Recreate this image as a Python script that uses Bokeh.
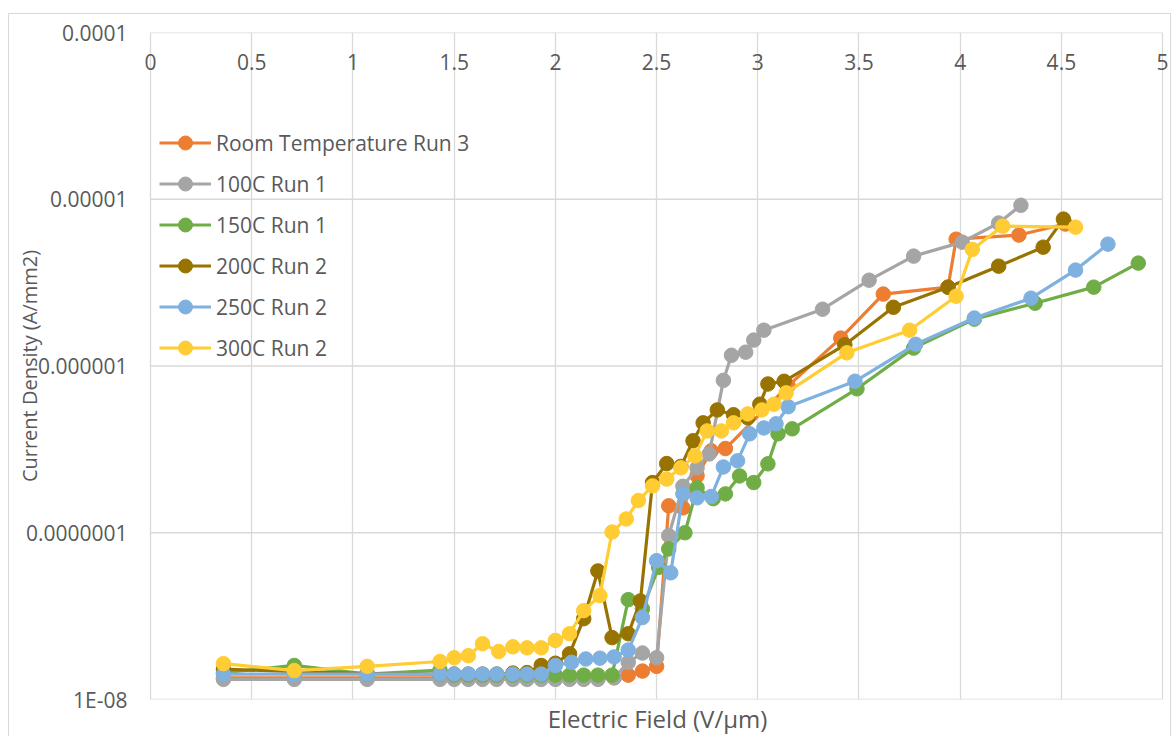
from bokeh.plotting import figure
from bokeh.models import (FixedTicker, ColumnDataSource, Label, Legend, LegendItem,
                          LinearAxis, Grid)
from bokeh.embed import file_html
from bokeh.resources import INLINE

# ---------------- data ----------------
series_names = ["Room Temperature Run 3", "100C Run 1", "150C Run 1",
                "200C Run 2", "250C Run 2", "300C Run 2"]
series_colors = ["#ED7D31", "#A5A5A5", "#70AD47", "#997300", "#7FB1E0", "#FFCC33"]

rt_x = [0.36, 0.71, 1.07, 1.43, 1.50, 1.57, 1.64, 1.71, 1.79, 1.86, 1.93, 2.00, 2.07, 2.14,
        2.21, 2.29, 2.36, 2.43, 2.50, 2.56, 2.63, 2.70, 2.77, 2.84, 3.15, 3.41, 3.62, 3.94,
        3.98, 4.29, 4.52]
rt_y = [1.35e-8, 1.35e-8, 1.35e-8, 1.35e-8, 1.35e-8, 1.35e-8, 1.35e-8, 1.35e-8, 1.35e-8,
        1.35e-8, 1.35e-8, 1.35e-8, 1.35e-8, 1.35e-8, 1.35e-8, 1.35e-8, 1.40e-8, 1.48e-8,
        1.58e-8, 1.45e-7, 1.41e-7, 2.2e-7, 3.1e-7, 3.2e-7, 7.6e-7, 1.47e-6, 2.7e-6, 2.97e-6,
        5.76e-6, 6.1e-6, 7.1e-6]

c100_x = [0.36, 0.71, 1.07, 1.43, 1.50, 1.57, 1.64, 1.71, 1.79, 1.86, 1.93, 2.00, 2.07, 2.14,
          2.21, 2.29, 2.36, 2.43, 2.50, 2.56, 2.63, 2.70, 2.76, 2.83, 2.87, 2.94, 2.98, 3.03,
          3.32, 3.55, 3.77, 4.01, 4.19, 4.30]
c100_y = [1.32e-8, 1.32e-8, 1.32e-8, 1.32e-8, 1.32e-8, 1.32e-8, 1.32e-8, 1.32e-8, 1.32e-8,
          1.32e-8, 1.32e-8, 1.32e-8, 1.32e-8, 1.32e-8, 1.32e-8, 1.35e-8, 1.67e-8, 1.9e-8,
          1.78e-8, 9.6e-8, 1.9e-7, 2.45e-7, 2.97e-7, 8.2e-7, 1.16e-6, 1.21e-6, 1.43e-6,
          1.64e-6, 2.19e-6, 3.27e-6, 4.56e-6, 5.53e-6, 7.2e-6, 9.2e-6]

c150_x = [0.36, 0.71, 1.07, 1.43, 1.50, 1.57, 1.64, 1.71, 1.79, 1.86, 1.93, 2.00, 2.07, 2.14,
          2.21, 2.28, 2.36, 2.43, 2.51, 2.56, 2.64, 2.70, 2.78, 2.84, 2.91, 2.98, 3.05, 3.10,
          3.17, 3.49, 3.77, 4.07, 4.37, 4.66, 4.88]
c150_y = [1.45e-8, 1.6e-8, 1.42e-8, 1.5e-8, 1.4e-8, 1.4e-8, 1.4e-8, 1.4e-8, 1.4e-8, 1.4e-8,
          1.4e-8, 1.4e-8, 1.4e-8, 1.4e-8, 1.4e-8, 1.4e-8, 3.97e-8, 3.5e-8, 6.2e-8, 8.0e-8,
          1.0e-7, 1.86e-7, 1.6e-7, 1.71e-7, 2.19e-7, 2.0e-7, 2.59e-7, 3.92e-7, 4.2e-7, 7.3e-7,
          1.28e-6, 1.91e-6, 2.38e-6, 2.97e-6, 4.14e-6]

c200_x = [0.36, 0.71, 1.07, 1.43, 1.50, 1.57, 1.64, 1.71, 1.79, 1.86, 1.93, 2.00, 2.07, 2.14,
          2.21, 2.28, 2.36, 2.42, 2.48, 2.55, 2.62, 2.68, 2.73, 2.80, 2.88, 2.95, 3.01, 3.05,
          3.13, 3.43, 3.67, 3.94, 4.19, 4.41, 4.51]
c200_y = [1.52e-8, 1.47e-8, 1.43e-8, 1.42e-8, 1.42e-8, 1.42e-8, 1.42e-8, 1.42e-8, 1.44e-8,
          1.45e-8, 1.6e-8, 1.65e-8, 1.88e-8, 3.05e-8, 5.9e-8, 2.35e-8, 2.48e-8, 3.9e-8, 2.0e-7,
          2.6e-7, 2.5e-7, 3.56e-7, 4.56e-7, 5.45e-7, 5.1e-7, 4.9e-7, 5.9e-7, 7.8e-7, 8.1e-7,
          1.34e-6, 2.25e-6, 2.97e-6, 3.97e-6, 5.16e-6, 7.6e-6]

c250_x = [0.36, 0.71, 1.07, 1.43, 1.50, 1.57, 1.64, 1.71, 1.79, 1.86, 1.93, 2.00, 2.08, 2.15,
          2.22, 2.29, 2.36, 2.43, 2.50, 2.57, 2.63, 2.70, 2.77, 2.83, 2.90, 2.96, 3.03, 3.09,
          3.15, 3.48, 3.78, 4.07, 4.35, 4.57, 4.73]
c250_y = [1.42e-8, 1.42e-8, 1.42e-8, 1.42e-8, 1.42e-8, 1.42e-8, 1.42e-8, 1.42e-8, 1.42e-8,
          1.42e-8, 1.42e-8, 1.6e-8, 1.67e-8, 1.75e-8, 1.77e-8, 1.8e-8, 1.98e-8, 3.1e-8, 6.8e-8,
          5.75e-8, 1.71e-7, 1.62e-7, 1.65e-7, 2.48e-7, 2.7e-7, 3.92e-7, 4.25e-7, 4.5e-7, 5.7e-7,
          8.1e-7, 1.35e-6, 1.94e-6, 2.55e-6, 3.76e-6, 5.38e-6]

c300_x = [0.36, 0.71, 1.07, 1.43, 1.50, 1.57, 1.64, 1.72, 1.79, 1.86, 1.93, 2.00, 2.07, 2.14,
          2.22, 2.28, 2.35, 2.41, 2.48, 2.55, 2.62, 2.69, 2.75, 2.82, 2.88, 2.95, 3.02, 3.08,
          3.14, 3.44, 3.75, 3.98, 4.06, 4.21, 4.57]
c300_y = [1.64e-8, 1.49e-8, 1.58e-8, 1.69e-8, 1.78e-8, 1.83e-8, 2.16e-8, 1.94e-8, 2.07e-8,
          2.04e-8, 2.04e-8, 2.26e-8, 2.48e-8, 3.41e-8, 4.2e-8, 1.01e-7, 1.21e-7, 1.56e-7,
          1.91e-7, 2.1e-7, 2.45e-7, 2.89e-7, 4.08e-7, 4.08e-7, 4.56e-7, 5.16e-7, 5.45e-7,
          5.9e-7, 6.9e-7, 1.2e-6, 1.64e-6, 2.62e-6, 5.0e-6, 6.9e-6, 6.8e-6]

x_ticks = [0, 0.5, 1, 1.5, 2, 2.5, 3, 3.5, 4, 4.5, 5]
x_tick_labels = ["0", "0.5", "1", "1.5", "2", "2.5", "3", "3.5", "4", "4.5", "5"]
y_ticks = [1e-8, 1e-7, 1e-6, 1e-5, 1e-4]
y_tick_labels = ["1E-08", "0.0000001", "0.000001", "0.00001", "0.0001"]

x_title = "Electric Field (V/\u00b5m)"
y_title = "Current Density (A/mm2)"

x_lo, x_hi = x_ticks[0], x_ticks[-1]
y_lo, y_hi = y_ticks[0], y_ticks[-1]

# ---------------- figure ----------------
FONT = "Open Sans"
TXT = "#595959"
GRID = "#D9D9D9"

# frame is widened a little past 0 and 5 so that the "0" and "5" labels fit in it
p = figure(width=1163, height=723, x_range=(x_lo - 0.04, x_hi + 0.049),
           y_range=(y_lo, y_hi),
           y_axis_type="log", output_backend="svg", toolbar_location=None,
           x_axis_location=None, y_axis_location="left",
           min_border_left=133, min_border_right=0, min_border_top=18,
           min_border_bottom=37, margin=(13, 0, 0, 8))
p.styles = {"border-top": "1px solid #D9D9D9", "border-left": "1px solid #D9D9D9",
            "border-right": "1px solid #D9D9D9"}
p.outline_line_color = None
p.background_fill_color = "white"
p.border_fill_color = "white"

# y axis with tick labels and title (title overlaps the label column, as in Excel)
ya = p.yaxis[0]
ya.ticker = FixedTicker(ticks=y_ticks, minor_ticks=[])
ya.major_label_overrides = {t: l for t, l in zip(y_ticks, y_tick_labels)}
ya.axis_line_color = None
ya.major_tick_line_color = None
ya.minor_tick_line_color = None
ya.major_tick_out = 0
ya.major_label_standoff = 15
ya.major_label_text_font = FONT
ya.major_label_text_font_size = "21px"
ya.major_label_text_color = TXT
ya.axis_label = y_title
ya.axis_label_text_font = FONT
ya.axis_label_text_font_size = "20px"
ya.axis_label_text_font_style = "normal"
ya.axis_label_text_color = TXT
ya.axis_label_standoff = -20

# bottom axis: title only
xa = LinearAxis(ticker=FixedTicker(ticks=[]), axis_label=x_title)
xa.axis_line_color = None
xa.major_tick_line_color = None
xa.minor_tick_line_color = None
xa.axis_label_text_font = FONT
xa.axis_label_text_font_size = "24px"
xa.axis_label_text_font_style = "normal"
xa.axis_label_text_color = TXT
xa.axis_label_standoff = 2
p.add_layout(xa, "below")

# grids: vertical via Grid, horizontal limited to the 0..5 span
p.xgrid.visible = False
p.ygrid.visible = False
xg = Grid(dimension=0, ticker=FixedTicker(ticks=x_ticks), grid_line_color=GRID,
          grid_line_width=1.3)
p.add_layout(xg, "center")
p.segment(x0=[x_lo] * len(y_ticks), x1=[x_hi] * len(y_ticks), y0=y_ticks, y1=y_ticks,
          line_color=GRID, line_width=1.3, level="underlay")

# x tick labels drawn just under the top edge (Excel style)
for t, lab in zip(x_ticks, x_tick_labels):
    p.add_layout(Label(x=t, y=y_hi, text=lab, y_offset=-29, text_align="center",
                       text_baseline="middle", text_font=FONT, text_font_size="21px",
                       text_color=TXT))

# series
all_x = [rt_x, c100_x, c150_x, c200_x, c250_x, c300_x]
all_y = [rt_y, c100_y, c150_y, c200_y, c250_y, c300_y]
items = []
for name, col, xs, ys in zip(series_names, series_colors, all_x, all_y):
    src = ColumnDataSource(dict(x=xs, y=ys))
    r1 = p.line("x", "y", source=src, line_color=col, line_width=3.2)
    r2 = p.scatter("x", "y", source=src, size=14.5, fill_color=col, line_color=col)
    items.append(LegendItem(label=name, renderers=[r1, r2]))

legend = Legend(items=items, location=(17, 334), orientation="vertical",
                background_fill_alpha=0, border_line_color=None,
                label_text_font=FONT, label_text_font_size="21px", label_text_color=TXT,
                glyph_width=52, glyph_height=35, label_height=35, label_standoff=5,
                spacing=6, padding=0, margin=0)
p.add_layout(legend, "center")

open("out.html", "w").write(file_html(p, INLINE))
